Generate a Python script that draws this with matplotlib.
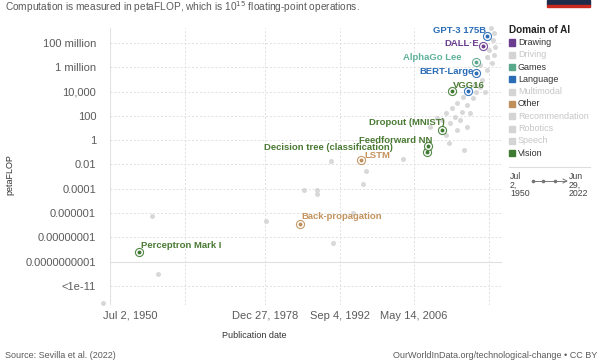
import matplotlib
matplotlib.use("Agg")
import matplotlib.pyplot as plt
import matplotlib.transforms as mtransforms
from matplotlib.patches import Rectangle
from matplotlib.lines import Line2D

plt.rcParams['font.family'] = ['Liberation Sans', 'DejaVu Sans']

# ---------------- data ----------------
# background (non-highlighted) systems: publication year (decimal) and petaFLOP
gray_year = [1958.2, 1959.3, 1949.2, 1986.1, 1988.5, 1988.5, 1996.9, 1979.1, 1995.1,
             1991.4, 1991.1, 1997.5, 2004.3, 2012.7, 2015.6,
             2021.1, 2020.8, 2020.2, 2021.0, 2019.7, 2020.6, 2018.4, 2019.7, 2018.0,
             2018.9, 2017.5, 2018.4, 2015.3, 2017.1, 2014.2, 2016.0, 2013.3, 2015.1,
             2012.3, 2013.8, 2016.6, 2011.4, 2012.9, 2014.7, 2010.5, 2014.2, 2016.0,
             2012.3, 2009.2, 2019.1, 2020.0, 2020.4, 2021.3, 2019.3, 2017.7]
gray_pflop = [5.8e-7, 1e-11, 4e-14, 8e-5, 8e-5, 3.7e-5, 2.5e-4, 2.2e-7, 1e-6,
              3.5e-9, 0.0195, 0.003, 0.028, 0.59, 0.155,
              6.6e8, 1.8e8, 2.6e7, 1e7, 7e6, 2.2e6, 1.5e6, 6e5, 2.3e5,
              9e4, 3.5e4, 2.4e4, 3.6e3, 3e3, 1.1e3, 800, 450, 210,
              170, 81, 170, 46, 26, 46, 68, 6.9, 12,
              2.7, 12, 6.9e7, 2.6e8, 1.6e9, 4.7e7, 9.3e3, 9.3e3]

# highlighted systems
hl_names = ["Perceptron Mark I", "Back-propagation", "LSTM", "Decision tree (classification)",
            "Feedforward NN", "Dropout (MNIST)", "VGG16", "", "AlphaGo Lee",
            "BERT-Large", "GPT-3 175B", "DALL·E"]
hl_year = [1955.8, 1985.4, 1996.6, 2008.8, 2009.0, 2011.4, 2013.3, 2016.2, 2017.8,
           2017.7, 2019.7, 2019.1]
hl_pflop = [6.3e-10, 1.3e-7, 0.023, 0.107, 0.33, 6.9, 1.1e4, 1.1e4, 2.75e6,
            3.4e5, 3.8e8, 5.6e7]
hl_domain = ["Vision", "Other", "Other", "Vision", "Vision", "Vision", "Vision",
             "Language", "Games", "Language", "Language", "Drawing"]

domains = ["Drawing", "Driving", "Games", "Language", "Multimodal", "Other",
           "Recommendation", "Robotics", "Speech", "Vision"]
domain_active = [True, False, True, True, False, True, False, False, False, True]

y_ticks = [1e8, 1e6, 1e4, 1e2, 1, 1e-2, 1e-4, 1e-6, 1e-8, 1e-10, 1e-12]
y_ticklabels = ["100 million", "1 million", "10,000", "100", "1", "0.01", "0.0001",
                "0.000001", "0.00000001", "0.0000000001", "<1e-11"]
x_ticks = [1950.50, 1964.19, 1978.99, 1992.68, 2006.36, 2020.05]
x_ticklabels = ["Jul 2, 1950", "", "Dec 27, 1978", "Sep 4, 1992", "May 14, 2006", ""]

# ---------------- style ----------------
dom_colors = {"Drawing": "#6b3d8f", "Games": "#5aa88c", "Language": "#2a6cb6",
              "Other": "#c0905c", "Vision": "#3f7a32"}
label_colors = {"Drawing": "#6b3d8f", "Games": "#5fb39b", "Language": "#2a6cb6",
                "Other": "#c4935e", "Vision": "#4a7a34"}
inactive = "#d2d2d2"

# label offsets in pixels and alignment
lab_off = [(2, 7, "left"), (1, 7, "left"), (3, 5, "left"), (-35, 4, "right"),
           (4, 6, "right"), (3, 7, "right"), (1, 6, "left"), (0, 0, "left"),
           (-15, 4, "right"), (-2, 1, "right"), (-1, 5, "right"), (-4, 3, "right")]

W, H = 600, 364
fig = plt.figure(figsize=(6.0, 3.64), dpi=100)
ax = fig.add_axes([110 / W, 1 - 305 / H, (502 - 110) / W, (305 - 28) / H])

ax.set_yscale("log")
ax.set_xlim(1950.5, 2022.5)
ax.set_ylim(10 ** -13.56, 10 ** 9.23)

for s in ax.spines.values():
    s.set_visible(False)

ax.set_yticks(y_ticks)
ax.set_yticklabels(y_ticklabels)
ax.yaxis.set_minor_locator(matplotlib.ticker.NullLocator())
ax.set_xticks(x_ticks)
ax.set_xticklabels(x_ticklabels)
ax.tick_params(axis="both", length=0, labelsize=8, labelcolor="#5b5b5b")
ax.tick_params(axis="y", pad=10)
ax.tick_params(axis="x", pad=4)
# shift first x tick label
lbl0 = ax.get_xticklabels()[0]
lbl0.set_horizontalalignment("left")
lbl0.set_transform(lbl0.get_transform() + mtransforms.ScaledTranslation(-7 / 100, 0, fig.dpi_scale_trans))

ax.grid(True, color="#e0e0e0", linewidth=0.7, linestyle=(0, (2, 2)))
ax.axhline(1e-10, color="#e2e2e2", linewidth=0.8, zorder=0.5)
ax.axvline(1950.5, color="#e4e4e4", linewidth=0.8, zorder=0.5)
ax.set_axisbelow(True)

ax.scatter(gray_year, gray_pflop, s=13, color=inactive, alpha=0.85, linewidths=0,
           zorder=2, clip_on=False)

for i, (nm, yr, pf, dm) in enumerate(zip(hl_names, hl_year, hl_pflop, hl_domain)):
    c = dom_colors[dm]
    ax.scatter([yr], [pf], s=8, color=c, zorder=4, linewidths=0)
    ax.scatter([yr], [pf], s=34, facecolors="white", edgecolors=c, linewidths=0.8,
               zorder=3, alpha=0.9)
    if nm:
        dx, dy, ha = lab_off[i]
        ax.annotate(nm, (yr, pf), xytext=(dx, dy), textcoords="offset pixels",
                    ha=ha, va="center", fontsize=6.8, fontweight="bold",
                    color=label_colors[dm], zorder=5 if nm != "LSTM" else 4.5)

ax.set_ylabel("petaFLOP", fontsize=6.5, color="#333333", labelpad=0)
ax.yaxis.set_label_coords(-96 / (502 - 110), (305 - 175) / (305 - 28))
ax.set_xlabel("Publication date", fontsize=6.5, color="#333333")
ax.xaxis.set_label_coords((254 - 110) / (502 - 110), -(331 - 305) / (305 - 28))

def fx(x):
    return x / W

def fy(y):
    return 1 - y / H

# subtitle, source
fig.text(fx(5), fy(7), "Computation is measured in petaFLOP, which is 10$^{15}$ floating-point operations.",
         fontsize=7.3, color="#5b5b5b", va="center", ha="left")
fig.text(fx(5), fy(355), "Source: Sevilla et al. (2022)", fontsize=6.5, color="#5b5b5b",
         va="center", ha="left")
fig.text(fx(597), fy(355), "OurWorldInData.org/technological-change • CC BY", fontsize=6.5,
         color="#5b5b5b", va="center", ha="right")

# logo fragment
fig.patches.append(Rectangle((fx(547), fy(5)), fx(43), 5 / H, transform=fig.transFigure,
                             color="#1d2a4a", zorder=1))
fig.patches.append(Rectangle((fx(547), fy(7)), fx(43), 2 / H, transform=fig.transFigure,
                             color="#c8281e", zorder=1))

# legend
fig.text(fx(509), fy(30), "Domain of AI", fontsize=7.2, fontweight="bold", color="#222222",
         va="center", ha="left")
for k, (dm, act) in enumerate(zip(domains, domain_active)):
    yy = 42.5 + k * 12.3
    col = dom_colors[dm] if act else "#d4d4d4"
    fig.patches.append(Rectangle((fx(509), fy(yy + 3)), 6 / W, 6 / H,
                                 transform=fig.transFigure, color=col))
    fig.text(fx(518), fy(yy), dm, fontsize=6.5, color="#333333" if act else "#c6c6c6",
             va="center", ha="left")

fig.add_artist(Line2D([fx(509), fx(590)], [fy(167), fy(167)], transform=fig.transFigure,
                      color="#dddddd", linewidth=0.8))
fig.text(fx(510), fy(172), "Jul\n2,\n1950", fontsize=6.3, color="#444444", va="top",
         ha="left", linespacing=0.95)
fig.text(fx(569), fy(172), "Jun\n29,\n2022", fontsize=6.3, color="#444444", va="top",
         ha="left", linespacing=0.95)
fig.add_artist(Line2D([fx(532), fx(566)], [fy(181), fy(181)], transform=fig.transFigure,
                      color="#777777", linewidth=0.7))
fig.add_artist(Line2D([fx(533), fx(543), fx(555)], [fy(181)] * 3, transform=fig.transFigure,
                      color="#777777", linestyle="none", marker="o", markersize=1.6))
fig.add_artist(Line2D([fx(563), fx(567), fx(563)], [fy(179), fy(181), fy(183)],
                      transform=fig.transFigure, color="#777777", linewidth=0.7))

fig.savefig("out.png", dpi=100)
